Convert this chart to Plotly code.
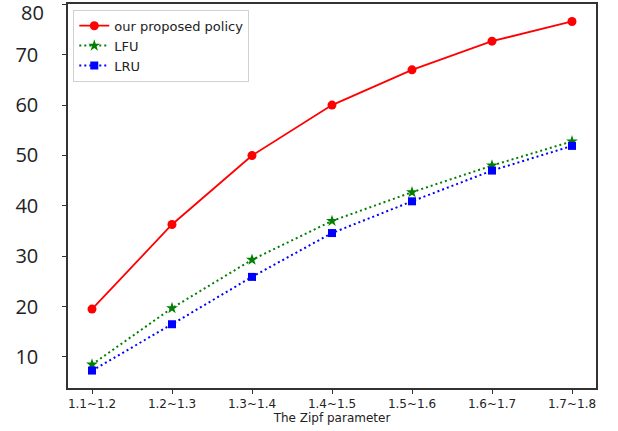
import plotly.graph_objects as go

categories = ["1.1~1.2", "1.2~1.3", "1.3~1.4", "1.4~1.5", "1.5~1.6", "1.6~1.7", "1.7~1.8"]
proposed = [19.5, 36.3, 50.0, 60.0, 67.0, 72.7, 76.6]
lfu = [8.5, 19.7, 29.3, 37.0, 42.7, 48.0, 52.8]
lru = [7.3, 16.5, 25.9, 34.6, 40.9, 47.0, 51.9]
y_ticks = [10, 20, 30, 40, 50, 60, 70, 80]
y_tick_text = ["10", "20", "30", "40", "50", "60", "70", ""]

x_idx = list(range(len(categories)))

fig = go.Figure()
fig.add_trace(go.Scatter(x=x_idx, y=proposed, mode="lines+markers", name="our proposed policy",
                         line=dict(color="#ff0000", width=1.8),
                         marker=dict(symbol="circle", size=9, color="#ff0000")))
fig.add_trace(go.Scatter(x=x_idx, y=lfu, mode="lines+markers", name="LFU",
                         line=dict(color="#008000", width=2, dash="2px,3px"),
                         marker=dict(symbol="star", size=9, color="#008000")))
fig.add_trace(go.Scatter(x=x_idx, y=lru, mode="lines+markers", name="LRU",
                         line=dict(color="#0000ff", width=2, dash="2px,3px"),
                         marker=dict(symbol="square", size=8, color="#0000ff")))

fig.add_annotation(x=0, xref="paper", xanchor="right", xshift=-22,
                   y=80, yref="y", yshift=-8, text="80", showarrow=False,
                   font=dict(family="Open Sans", size=20, color="#222"))

fig.update_layout(
    template="none",
    width=618, height=431,
    margin=dict(l=68, r=22, t=4, b=43),
    paper_bgcolor="white", plot_bgcolor="white",
    showlegend=True,
    legend=dict(x=0.01, y=0.985, xanchor="left", yanchor="top",
                bgcolor="rgba(255,255,255,0.8)", bordercolor="#d0d0d0", borderwidth=1,
                font=dict(family="DejaVu Sans", size=13, color="#222"),
                tracegroupgap=0, itemwidth=30),
    xaxis=dict(range=[-0.3, 6.3], tickmode="array", tickvals=x_idx, ticktext=categories,
               automargin=False,
               showline=True, mirror=True, linecolor="#333", linewidth=1.5,
               ticks="outside", ticklen=4, tickcolor="#333", showgrid=False, zeroline=False,
               tickfont=dict(family="DejaVu Sans", size=12, color="#222"),
               title=dict(text="The Zipf parameter", standoff=2,
                          font=dict(family="DejaVu Sans", size=12, color="#222"))),
    yaxis=dict(range=[3.84, 80.07], tickmode="array", tickvals=y_ticks, ticktext=y_tick_text,
               automargin=False,
               showline=True, mirror=True, linecolor="#333", linewidth=1.5,
               ticks="outside", ticklen=4, tickcolor="#333", showgrid=False, zeroline=False,
               ticklabelstandoff=20,
               tickfont=dict(family="Open Sans", size=20, color="#222")),
)

fig.write_html("out.html", config={"displayModeBar": False},
               post_script="document.body.style.margin='0';")
